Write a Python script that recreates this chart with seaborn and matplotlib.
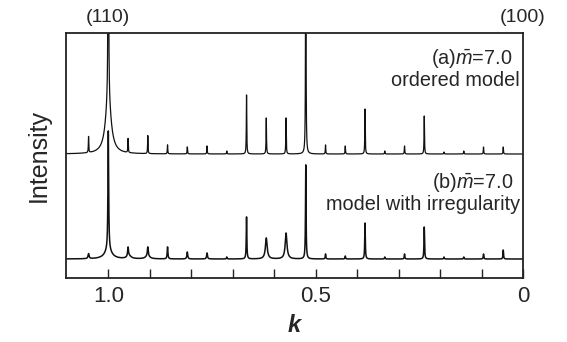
import numpy as np
import pandas as pd
import matplotlib
matplotlib.use("Agg")
import matplotlib.pyplot as plt
import seaborn as sns

# ---- data ----
period = 21                      # peaks sit at k = n/21
harmonics = list(range(1, 23))   # n = 1 .. 22
# (a) ordered model: peak heights above baseline (pixel-like units)
heights_a = [7, 7, 3, 2, 38, 8, 3, 45, 8, 9, 300, 36, 36, 59, 3, 8, 7, 9, 18, 14, 1000, 16]
widths_a = [0.0006] * 20 + [0.0004] + [0.0006]
# broad base under the (110) peak in (a)
bump_a_k = [1.0]
bump_a_h = [55]
bump_a_w = [0.008]
# (b) model with irregularity
heights_b = [9, 5, 2, 2, 32, 5, 2, 36, 3, 5, 94, 20, 16, 42, 2, 6, 7, 12, 9, 9, 119, 5]
widths_b = [0.0008, 0.0008, 0.0008, 0.0008, 0.0008, 0.0008, 0.0008, 0.0008, 0.0008, 0.0008,
            0.0008, 0.0022, 0.0022, 0.0008, 0.0008, 0.0012, 0.0012, 0.0010, 0.0012, 0.0012,
            0.0010, 0.0015]
# broad irregular bumps in (b)
bump_b_k = [1.0, 0.619, 0.571, 0.95, 0.905]
bump_b_h = [9, 5, 6, 3, 3]
bump_b_w = [0.010, 0.004, 0.004, 0.006, 0.006]

tick_major = [1.0, 0.5, 0.0]
tick_labels = ["1.0", "0.5", "0"]
label_a = ["(a)$\\bar{m}$=7.0", "ordered model"]
label_b = ["(b)$\\bar{m}$=7.0", "model with irregularity"]

# ---- build traces ----
peak_k = [n / period for n in harmonics]
grid = np.sort(np.unique(np.concatenate([np.linspace(0.0, 1.11, 12000), peak_k])))[::-1]


def lorentz_sum(ks, hs, ws):
    out = np.zeros_like(grid)
    for k0, h, w in zip(ks, hs, ws):
        out += h * w**2 / ((grid - k0) ** 2 + w**2)
    return out


trace_a = lorentz_sum(peak_k, heights_a, widths_a) + lorentz_sum(bump_a_k, bump_a_h, bump_a_w)
trace_b = lorentz_sum(peak_k, heights_b, widths_b) + lorentz_sum(bump_b_k, bump_b_h, bump_b_w)

base_a, base_b = 124, 19
df = pd.concat([
    pd.DataFrame({"k": grid, "I": trace_a + base_a, "model": "a"}),
    pd.DataFrame({"k": grid, "I": trace_b + base_b, "model": "b"}),
])

sns.set_theme(style="white")
plt.rcParams["font.family"] = ["Liberation Sans", "DejaVu Sans"]
plt.rcParams["mathtext.fontset"] = "custom"
plt.rcParams["mathtext.rm"] = "Liberation Sans"
plt.rcParams["mathtext.it"] = "Liberation Sans:italic"

fig = plt.figure(figsize=(5.67, 3.42), dpi=100)
ax = fig.add_axes([66 / 567, 1 - 278 / 342, (523 - 66) / 567, (278 - 33) / 342])

sns.lineplot(data=df[df.model == "a"], x="k", y="I", ax=ax, color="#111111",
             lw=0.9, estimator=None, sort=False)
sns.lineplot(data=df[df.model == "b"], x="k", y="I", ax=ax, color="#111111",
             lw=1.1, estimator=None, sort=False)

ax.set_xlim(1.102, 0.0)
ax.set_ylim(0, 245)
ax.set_xticks(tick_major)
ax.set_xticklabels(tick_labels, fontsize=16)
ax.set_xticks(np.round(np.arange(0.1, 1.1, 0.1), 2), minor=True)
ax.tick_params(axis="x", which="both", direction="in", length=6.5, width=1.0,
               color="#222222", bottom=True, top=False, pad=6)
ax.set_yticks([])
ax.set_ylabel("Intensity", fontsize=18, labelpad=11)
ax.set_xlabel("k", fontsize=17, fontweight="bold", fontstyle="italic", labelpad=5)
for s in ax.spines.values():
    s.set_color("#222222")
    s.set_linewidth(1.3)

trans = ax.get_xaxis_transform()
ax.text(1.0, 1.03, "(110)", transform=trans, ha="center", va="bottom", fontsize=14)
ax.text(0.0, 1.03, "(100)", transform=trans, ha="center", va="bottom", fontsize=14)

ax.text(512 / 567, 1 - 58 / 342, label_a[0], transform=fig.transFigure, ha="right", va="center", fontsize=14.3)
ax.text(520 / 567, 1 - 80 / 342, label_a[1], transform=fig.transFigure, ha="right", va="center", fontsize=14.3)
ax.text(513 / 567, 1 - 183 / 342, label_b[0], transform=fig.transFigure, ha="right", va="center", fontsize=14.3)
ax.text(520 / 567, 1 - 204 / 342, label_b[1], transform=fig.transFigure, ha="right", va="center", fontsize=14.3)

fig.savefig("out.png", dpi=100)
